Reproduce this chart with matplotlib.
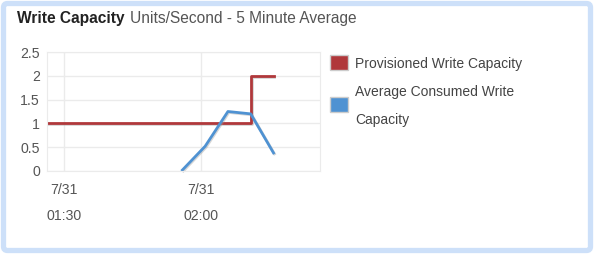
import matplotlib.pyplot as plt
import matplotlib.dates as mdates
import matplotlib.patheffects as pe
from matplotlib.patches import FancyBboxPatch, Rectangle
import pandas as pd

plt.rcParams['font.family'] = ['Liberation Sans', 'DejaVu Sans']

# Data (5 minute samples)
prov_times = pd.date_range('2016-07-31 01:26:00', periods=11, freq='5min')
prov_values = [1, 1, 1, 1, 1, 1, 1, 1, 1, 2, 2]
used_times = pd.date_range('2016-07-31 01:56:00', periods=5, freq='5min')
used_values = [0.02, 0.52, 1.25, 1.2, 0.38]
series_names = ['Provisioned Write Capacity', 'Average Consumed Write\nCapacity']
series_colors = ['#b0383b', '#4f92d2']
x_ticks = pd.to_datetime(['2016-07-31 01:30', '2016-07-31 02:00'])
y_ticks = [0, 0.5, 1, 1.5, 2, 2.5]

W, H = 602, 256
fig = plt.figure(figsize=(W / 100, H / 100), dpi=100)

# background canvas in pixel coords
bg = fig.add_axes([0, 0, 1, 1], zorder=-1)
bg.set_xlim(0, W)
bg.set_ylim(H, 0)
bg.axis('off')
bg.add_patch(FancyBboxPatch((3.5, 3.5), 587, 247, boxstyle='round,pad=0,rounding_size=4',
                            facecolor='white', edgecolor='#cde0f9', linewidth=3.8))

bg.text(17, 18, 'Write Capacity', fontsize=11.2, fontweight='bold', color='#222222',
        va='center', ha='left')
bg.text(130, 18, 'Units/Second - 5 Minute Average', fontsize=11.2, color='#555555',
        va='center', ha='left')

# legend drawn by hand
leg_y = [63, 105]
for name, color, y in zip(series_names, series_colors, leg_y):
    bg.add_patch(Rectangle((330, y - 8), 18, 15, facecolor=color, edgecolor='#cccccc', linewidth=1))
    bg.text(355, y + 1, name, fontsize=10, color='#444444', va='center', ha='left', linespacing=2.2)

# main chart
ax = fig.add_axes([47 / W, 1 - 171 / H, 273 / W, 119 / H])
shadow = [pe.SimpleLineShadow(offset=(0.7, -0.7), shadow_color='#999999', alpha=0.4), pe.Normal()]
ax.plot(prov_times, prov_values, drawstyle='steps-post', color=series_colors[0], lw=2,
        path_effects=shadow)
ax.plot(used_times, used_values, color=series_colors[1], lw=2, path_effects=shadow, clip_on=False)

ax.set_xlim(pd.Timestamp('2016-07-31 01:26:18'), pd.Timestamp('2016-07-31 02:26:12'))
ax.set_ylim(0, 2.5)
ax.set_yticks(y_ticks)
ax.set_yticklabels(['0', '0.5', '1', '1.5', '2', '2.5'])
ax.set_xticks(x_ticks)
ax.xaxis.set_major_formatter(mdates.DateFormatter('%-m/%d\n%H:%M'))
ax.tick_params(length=0, labelsize=10.2, labelcolor='#555555')
ax.tick_params(axis='x', pad=9)
ax.tick_params(axis='y', pad=5)
for lbl in ax.get_xticklabels():
    lbl.set_linespacing(2.05)
ax.grid(True, color='#ebebeb', lw=1)
ax.set_axisbelow(True)
for s in ax.spines.values():
    s.set_color('#ebebeb')

fig.savefig('out.png', dpi=100)
